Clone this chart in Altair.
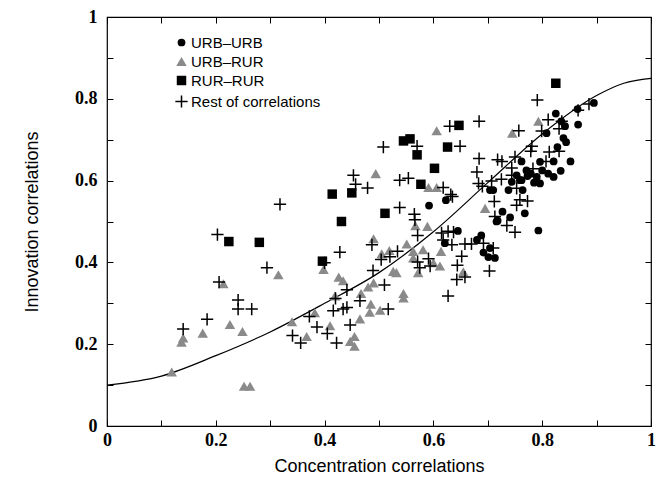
import altair as alt
import pandas as pd

# ---------------- data ----------------
urb_urb_x = [0.825, 0.842, 0.835, 0.808, 0.865, 0.895, 0.866, 0.839, 0.844, 0.828,
             0.821, 0.852, 0.762, 0.796, 0.771, 0.753, 0.762, 0.779, 0.790, 0.785,
             0.796, 0.821, 0.744, 0.759, 0.704, 0.710, 0.738, 0.764, 0.623, 0.592,
             0.727, 0.741, 0.718, 0.768, 0.716, 0.793, 0.645, 0.621, 0.688, 0.680,
             0.692, 0.701, 0.713, 0.704, 0.811, 0.800, 0.773, 0.834]
urb_urb_y = [0.764, 0.733, 0.745, 0.716, 0.775, 0.790, 0.737, 0.704, 0.694, 0.682,
             0.647, 0.647, 0.647, 0.646, 0.625, 0.613, 0.601, 0.617, 0.609, 0.595,
             0.593, 0.609, 0.597, 0.601, 0.577, 0.577, 0.577, 0.577, 0.552, 0.539,
             0.524, 0.510, 0.502, 0.520, 0.500, 0.478, 0.477, 0.447, 0.466, 0.455,
             0.424, 0.413, 0.411, 0.435, 0.617, 0.625, 0.611, 0.624]

urb_rur_x = [0.119, 0.137, 0.140, 0.176, 0.214, 0.226, 0.249, 0.252, 0.263, 0.315,
             0.340, 0.367, 0.382, 0.398, 0.410, 0.419, 0.426, 0.434, 0.447, 0.455,
             0.455, 0.465, 0.467, 0.480, 0.483, 0.485, 0.490, 0.490, 0.494, 0.502,
             0.505, 0.519, 0.526, 0.532, 0.545, 0.545, 0.551, 0.563, 0.563, 0.567,
             0.572, 0.581, 0.589, 0.591, 0.600, 0.606, 0.606, 0.612, 0.614, 0.655,
             0.695, 0.745, 0.793]
urb_rur_y = [0.132, 0.205, 0.215, 0.227, 0.348, 0.248, 0.231, 0.097, 0.097, 0.370,
             0.255, 0.219, 0.277, 0.383, 0.245, 0.318, 0.364, 0.355, 0.207, 0.195,
             0.219, 0.262, 0.324, 0.340, 0.278, 0.298, 0.350, 0.458, 0.617, 0.283,
             0.421, 0.429, 0.378, 0.375, 0.324, 0.313, 0.445, 0.427, 0.411, 0.490,
             0.375, 0.431, 0.488, 0.583, 0.399, 0.583, 0.722, 0.391, 0.427, 0.377,
             0.532, 0.716, 0.745]

rur_rur_x = [0.224, 0.280, 0.396, 0.431, 0.414, 0.450, 0.511, 0.545, 0.557, 0.570,
             0.577, 0.602, 0.626, 0.647, 0.825]
rur_rur_y = [0.451, 0.449, 0.403, 0.500, 0.567, 0.570, 0.520, 0.697, 0.702, 0.663,
             0.591, 0.630, 0.682, 0.735, 0.838]

rest_x = [0.140, 0.184, 0.203, 0.206, 0.241, 0.241, 0.266, 0.294, 0.318, 0.341,
          0.356, 0.372, 0.386, 0.400, 0.405, 0.416, 0.420, 0.422, 0.428, 0.434,
          0.441, 0.441, 0.447, 0.453, 0.457, 0.465, 0.479, 0.487, 0.489, 0.504,
          0.508, 0.510, 0.517, 0.520, 0.534, 0.538, 0.554, 0.538, 0.565, 0.566,
          0.571, 0.571, 0.575, 0.591, 0.594, 0.570, 0.615, 0.618, 0.618, 0.627,
          0.627, 0.630, 0.632, 0.634, 0.635, 0.637, 0.643, 0.644, 0.649, 0.652,
          0.658, 0.658, 0.670, 0.680, 0.683, 0.684, 0.684, 0.690, 0.692, 0.703,
          0.707, 0.710, 0.712, 0.713, 0.718, 0.725, 0.726, 0.735, 0.744, 0.744,
          0.750, 0.750, 0.753, 0.753, 0.757, 0.759, 0.773, 0.779, 0.781, 0.783,
          0.791, 0.799, 0.807, 0.811, 0.813, 0.831, 0.831, 0.836, 0.866, 0.886]
rest_y = [0.237, 0.261, 0.468, 0.352, 0.308, 0.286, 0.286, 0.387, 0.542, 0.221,
          0.203, 0.268, 0.242, 0.399, 0.226, 0.282, 0.312, 0.203, 0.425, 0.286,
          0.290, 0.333, 0.247, 0.613, 0.591, 0.306, 0.582, 0.443, 0.380, 0.407,
          0.682, 0.345, 0.286, 0.414, 0.427, 0.601, 0.606, 0.534, 0.518, 0.504,
          0.466, 0.401, 0.387, 0.409, 0.391, 0.684, 0.472, 0.455, 0.583, 0.476,
          0.318, 0.733, 0.566, 0.443, 0.561, 0.474, 0.358, 0.393, 0.684, 0.415,
          0.364, 0.445, 0.445, 0.621, 0.593, 0.654, 0.745, 0.586, 0.447, 0.379,
          0.599, 0.435, 0.549, 0.512, 0.651, 0.603, 0.647, 0.490, 0.613, 0.631,
          0.474, 0.658, 0.540, 0.581, 0.722, 0.553, 0.550, 0.672, 0.684, 0.629,
          0.797, 0.721, 0.647, 0.749, 0.670, 0.672, 0.727, 0.745, 0.772, 0.787]

# fitted curve
curve_x = [0.0, 0.1, 0.2, 0.3, 0.4, 0.5, 0.6, 0.7, 0.8, 0.9, 0.95, 1.0]
curve_y = [0.100, 0.122, 0.172, 0.230, 0.300, 0.375, 0.475, 0.595, 0.714, 0.808, 0.838, 0.850]

categories = ["URB\u2013URB", "URB\u2013RUR", "RUR\u2013RUR", "Rest of correlations"]
tick_values = [0.0, 0.1, 0.2, 0.3, 0.4, 0.5, 0.6, 0.7, 0.8, 0.9, 1.0]

# ---------------- tables ----------------
rows = []
for cat, xs, ys in [(categories[1], urb_rur_x, urb_rur_y),
                    (categories[0], urb_urb_x, urb_urb_y),
                    (categories[2], rur_rur_x, rur_rur_y),
                    (categories[3], rest_x, rest_y)]:
    for a, b in zip(xs, ys):
        rows.append({"x": a, "y": b, "cat": cat})
df = pd.DataFrame(rows)
curve_df = pd.DataFrame({"cx": curve_x, "cy": curve_y})

# ---------------- styling ----------------
shapes = ["circle", "triangle-up", "square", "M-1,0L1,0M0,-1L0,1"]
colors = ["#000000", "#8a8a8a", "#000000", "#000000"]
sizes = [60, 110, 90, 150]
strokes = [0, 0, 0, 1.5]

xscale = alt.Scale(domain=[0, 1], nice=False, zero=False)
yscale = alt.Scale(domain=[0, 1], nice=False, zero=False)

label_expr = "round(datum.value*10) % 2 == 0 ? datum.label : ''"

common = dict(values=tick_values, offset=-6, tickSize=6, domain=False, grid=False,
              tickColor="black", tickWidth=1, labelFlush=False, labelOverlap=False)

x_bottom = alt.Axis(orient="bottom", format="~g", labelExpr=label_expr,
                    labelFont="Liberation Serif", labelFontWeight="bold",
                    labelFontSize=18, labelColor="black", labelPadding=5,
                    title="Concentration correlations", titleFont="Liberation Sans",
                    titleFontSize=18, titleFontWeight="normal", titleColor="black",
                    titlePadding=8, **common)
y_left = alt.Axis(orient="left", format="~g", labelExpr=label_expr,
                  labelFont="Liberation Serif", labelFontWeight="bold",
                  labelFontSize=18, labelColor="black", labelPadding=10,
                  title="Innovation correlations", titleFont="Liberation Sans",
                  titleFontSize=18, titleFontWeight="normal", titleColor="black",
                  titlePadding=33, **common)
x_top = alt.Axis(orient="top", labels=False, title=None, **common)
y_right = alt.Axis(orient="right", labels=False, title=None, **common)

legend = alt.Legend(title=None, orient="none", legendX=67, legendY=18,
                    labelFont="Liberation Sans", labelFontSize=15, labelColor="black",
                    labelOffset=2, rowPadding=3, padding=0)

points = alt.Chart(df).mark_point(filled=True, opacity=1).encode(
    x=alt.X("x:Q", scale=xscale, axis=x_bottom),
    y=alt.Y("y:Q", scale=yscale, axis=y_left),
    shape=alt.Shape("cat:N", scale=alt.Scale(domain=categories, range=shapes), legend=legend),
    color=alt.Color("cat:N", scale=alt.Scale(domain=categories, range=colors), legend=legend),
    stroke=alt.Stroke("cat:N", scale=alt.Scale(domain=categories, range=colors), legend=legend),
    strokeWidth=alt.StrokeWidth("cat:N", scale=alt.Scale(type="ordinal", domain=categories, range=strokes), legend=legend),
    size=alt.Size("cat:N", scale=alt.Scale(type="ordinal", domain=categories, range=sizes), legend=legend),
)

curve = alt.Chart(curve_df).mark_line(color="black", strokeWidth=1.2,
                                      interpolate="monotone", clip=True).encode(
    x=alt.X("cx:Q", scale=xscale, axis=x_top),
    y=alt.Y("cy:Q", scale=yscale, axis=y_right),
)

chart = alt.layer(curve, points).resolve_axis(
    x="independent", y="independent"
).properties(
    width=544, height=409, autosize="none",
    padding={"left": 99, "top": 9, "right": 13, "bottom": 49},
).configure_view(stroke="black", strokeWidth=1.2)

chart.save("out.html", embed_options={"renderer": "svg", "actions": False})
